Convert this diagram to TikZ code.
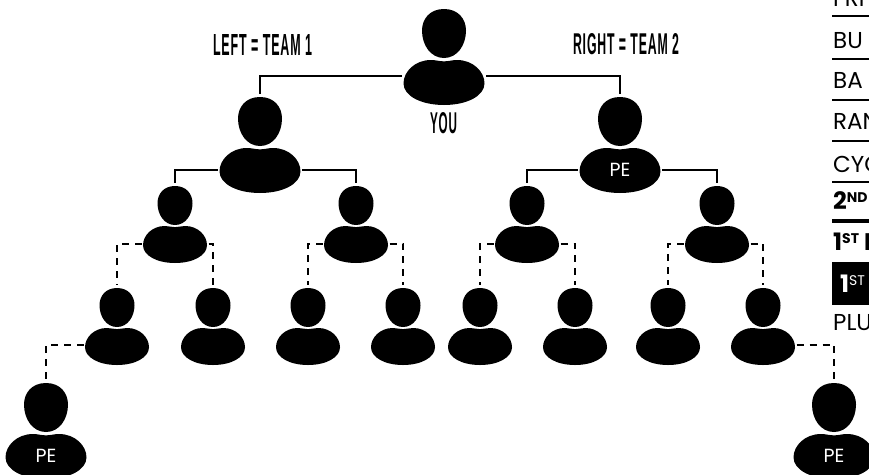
\documentclass[tikz,border=0pt]{standalone}
\usepackage{fontspec}
\setmainfont{Poppins}
\newfontfamily\headfont[LetterSpace=7]{Liberation Sans}
\tikzset{
  x=1pt,y=-1pt,
  solidlink/.style={line width=2pt,black},
  dashlink/.style={line width=2pt,black,dash pattern=on 7pt off 6pt},
  anchorbox/.style={inner sep=0pt,outer sep=0pt,text=white,font=\fontsize{19}{19}\selectfont},
  rulebar/.style={line width=1.5pt,black},
  rowtext/.style={anchor=base west,inner sep=0pt,font=\fontsize{23}{23}\selectfont},
  ordtext/.style={rowtext,font=\fontsize{24}{24}\selectfont\bfseries},
  caption/.style={inner sep=0pt,font=\headfont\bfseries},
}
% #1 name, #2 cx, #3 top of head, #4 head w, #5 head h, #6 body w, #7 body top, #8 body h, #9 label
\newcommand{\person}[9]{%
  \fill[black] (#2,#3) .. controls ({#2+0.32*#4},#3) and ({#2+0.5*#4},{#3+0.2*#5}) .. ({#2+0.5*#4},{#3+0.44*#5})
     .. controls ({#2+0.5*#4},{#3+0.74*#5}) and ({#2+0.3*#4},{#3+#5}) .. (#2,{#3+#5})
     .. controls ({#2-0.3*#4},{#3+#5}) and ({#2-0.5*#4},{#3+0.74*#5}) .. ({#2-0.5*#4},{#3+0.44*#5})
     .. controls ({#2-0.5*#4},{#3+0.2*#5}) and ({#2-0.32*#4},#3) .. cycle;
  \fill[black] (#2,{#7+0.03*#8}) .. controls ({#2+0.06*#6},{#7+0.03*#8}) and ({#2+0.1*#6},#7) .. ({#2+0.16*#6},#7)
     .. controls ({#2+0.36*#6},#7) and ({#2+0.5*#6},{#7+0.26*#8}) .. ({#2+0.5*#6},{#7+0.52*#8})
     .. controls ({#2+0.5*#6},{#7+0.8*#8}) and ({#2+0.28*#6},{#7+#8}) .. (#2,{#7+#8})
     .. controls ({#2-0.28*#6},{#7+#8}) and ({#2-0.5*#6},{#7+0.8*#8}) .. ({#2-0.5*#6},{#7+0.52*#8})
     .. controls ({#2-0.5*#6},{#7+0.26*#8}) and ({#2-0.36*#6},#7) .. ({#2-0.16*#6},#7)
     .. controls ({#2-0.1*#6},#7) and ({#2-0.06*#6},{#7+0.03*#8}) .. (#2,{#7+0.03*#8}) -- cycle;
  \node[anchorbox,minimum width={(#6+3)*1pt},minimum height={(#8*0.7)*1pt}] (#1) at (#2,{#7+0.48*#8}) {#9};
  \node[inner sep=0pt,minimum width={#4*1pt},minimum height={(#5+6)*1pt}] (#1-h) at (#2,{#3+0.5*#5}) {};
}
\newcommand{\bigperson}[4]{\person{#1}{#2}{#3}{44}{49}{81}{#3+51}{45}{#4}}
\newcommand{\smallperson}[4]{\person{#1}{#2}{#3}{35}{39}{64}{#3+40}{37}{#4}}
\begin{document}
\begin{tikzpicture}
\useasboundingbox (0,0) rectangle (869,474);
\bigperson{you}{444}{9}{}
\bigperson{a}{260}{97}{}
\bigperson{b}{620}{97}{PE}
\smallperson{a1}{175}{186}{}
\smallperson{a2}{356}{186}{}
\smallperson{b1}{527}{186}{}
\smallperson{b2}{717}{186}{}
\smallperson{c1}{117}{288}{}
\smallperson{c2}{213}{288}{}
\smallperson{c3}{308}{288}{}
\smallperson{c4}{403}{288}{}
\smallperson{c5}{480}{288}{}
\smallperson{c6}{575}{288}{}
\smallperson{c7}{668}{288}{}
\smallperson{c8}{763}{288}{}
\begin{scope}
\clip (0,0) rectangle (869,474);
\bigperson{pl}{46}{383}{PE}
\bigperson{pr}{834}{383}{PE}
\end{scope}
% solid links
\draw[solidlink] ([yshift=5.5pt]you.west) -| (a-h.north);
\draw[solidlink] ([yshift=5.5pt]you.east) -| (b-h.north);
\draw[solidlink] (a.west) -| (a1-h.north);
\draw[solidlink] (a.east) -| (a2-h.north);
\draw[solidlink] (b.west) -| (b1-h.north);
\draw[solidlink] (b.east) -| (b2-h.north);
% dashed links
\draw[dashlink] (a1.west) -| (c1-h.north);
\draw[dashlink] (a1.east) -| (c2-h.north);
\draw[dashlink] (a2.west) -| (c3-h.north);
\draw[dashlink] (a2.east) -| (c4-h.north);
\draw[dashlink] (b1.west) -| (c5-h.north);
\draw[dashlink] (b1.east) -| (c6-h.north);
\draw[dashlink] (b2.west) -| (c7-h.north);
\draw[dashlink] (b2.east) -| (c8-h.north);
\draw[dashlink] ([yshift=1.2pt]c1.west) -| (pl-h.north);
\draw[dashlink] ([yshift=1.2pt]c8.east) -| (pr-h.north);
% captions
\node[caption] (lefttxt) at (262.5,44.5) {\resizebox{99pt}{21pt}{LEFT = TEAM 1}};
\node[caption] (righttxt) at (626,44.5) {\resizebox{106pt}{21pt}{RIGHT = TEAM 2}};
\node[caption] (youtxt) at (443.5,123.5) {\resizebox{27pt}{21pt}{YOU}};
% table
\begin{scope}
\clip (826,0) rectangle (869,474);
\node[rowtext] (r1) at (833,6) {FRI};
\node[rowtext] (r2) at (833,48) {BU};
\node[rowtext] (r3) at (833,88) {BA};
\node[rowtext] (r4) at (833,129) {RAN};
\node[rowtext] (r5) at (833,172) {CYC};
\node[ordtext] (r6) at (833,209) {2\raisebox{7pt}{\fontsize{14}{14}\selectfont ND}};
\node[ordtext] (r7) at (833,250) {1\raisebox{7pt}{\fontsize{14}{14}\selectfont ST} P};
\fill[black] (832,262) rectangle (869,305);
\node[ordtext,text=white] (r8) at (840,292) {1\raisebox{7pt}{\fontsize{14}{14}\mdseries\selectfont ST}};
\node[rowtext] (r9) at (833,330) {PLU};
\draw[rulebar] (832,16) -- (869,16);
\draw[rulebar] (832,59) -- (869,59);
\draw[rulebar] (832,100) -- (869,100);
\draw[rulebar] (832,141) -- (869,141);
\draw[rulebar] (832,182) -- (869,182);
\draw[rulebar] (832,220) -- (869,220);
\draw[rulebar] (832,222) -- (869,222);
\end{scope}
\end{tikzpicture}
\end{document}
